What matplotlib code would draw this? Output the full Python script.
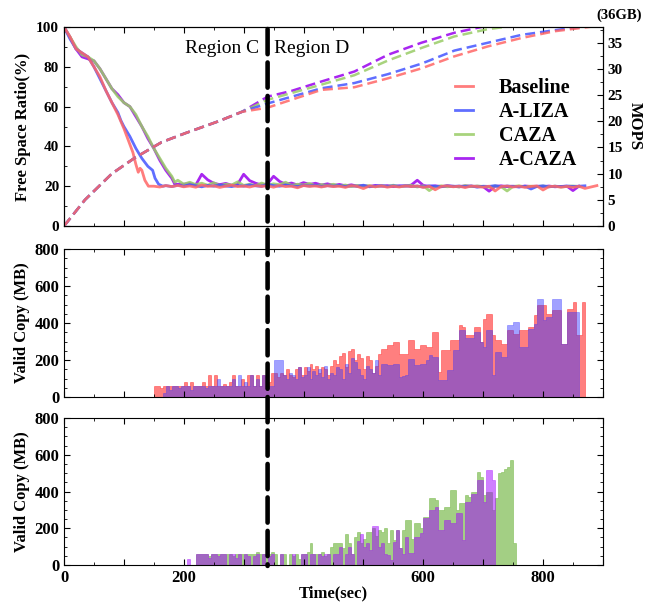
import numpy as np
import matplotlib
matplotlib.use('Agg')
import matplotlib.pyplot as plt
from matplotlib.patches import ConnectionPatch
from matplotlib.ticker import MultipleLocator

plt.rcParams['font.family'] = ['Liberation Serif', 'DejaVu Serif']
plt.rcParams['font.weight'] = 'bold'

# ---------------- data ----------------
names = ['Baseline', 'A-LIZA', 'CAZA', 'A-CAZA']
line_colors = ['#FF6666', '#4455FF', '#99CC66', '#9900EE']

# free space ratio (%): decline part (t, y) then flat part sampled every 10 s
base_fs_t = [0, 10, 20, 30, 40, 50, 60, 70, 80, 90, 100, 110, 115, 120, 124, 127, 130, 135, 141]
base_fs_y = [100, 95, 89, 87, 85, 80, 75, 68, 62, 56, 49, 41, 37, 31, 27, 29, 28, 23, 20]
base_flat_t0 = 150
base_flat = [20.0, 19.6, 20.3, 19.8, 20.4, 19.7, 20.1, 19.5, 20.6, 19.9,
             20.2, 19.4, 20.0, 20.5, 19.8, 20.1, 19.6, 20.3, 19.9, 20.2,
             19.5, 20.4, 19.8, 20.0, 19.2, 20.3, 19.9, 20.1, 19.6, 20.2,
             19.8, 20.0, 19.4, 20.3, 19.9, 18.8, 20.1, 19.7, 20.2, 19.5,
             20.0, 19.6, 20.2, 19.8, 20.1, 19.4, 20.0, 18.2, 19.9, 20.2,
             19.7, 20.0, 19.3, 20.1, 19.8, 19.5, 20.0, 17.6, 19.8, 20.1,
             19.6, 20.0, 19.4, 19.9, 20.1, 18.1, 19.8, 20.0, 19.5, 19.9,
             19.4, 20.0, 18.9, 19.6, 20.3]

aliza_fs_t = [0, 10, 20, 30, 40, 50, 60, 70, 80, 90, 95, 100, 110, 120, 130, 140, 148, 152, 158, 165]
aliza_fs_y = [100, 94, 89, 87, 85, 80, 74, 68, 62, 57, 53, 50, 45, 39, 34, 30, 28, 24, 21, 20]
aliza_flat_t0 = 170
aliza_flat = [20.3, 19.8, 20.5, 20.0, 20.8, 20.2, 19.7, 20.4, 20.0, 20.6,
              20.1, 19.8, 20.4, 20.0, 20.7, 20.2, 19.9, 21.0, 20.3, 20.0,
              20.6, 20.2, 19.8, 20.4, 20.1, 20.5, 19.9, 20.3, 20.0, 20.4,
              19.8, 20.2, 20.0, 20.5, 19.7, 20.1, 20.3, 19.9, 20.2, 20.0,
              20.3, 19.8, 20.1, 19.6, 20.2, 20.0, 19.7, 20.3, 19.9, 20.1,
              19.8, 20.2, 19.5, 20.0, 19.9, 20.3, 19.7, 20.1, 19.9, 19.6,
              20.0, 18.6, 19.9, 20.2, 19.7, 20.0, 19.8, 20.1, 19.9, 20.0,
              20.2]

caza_fs_t = [0, 10, 20, 30, 40, 50, 60, 70, 80, 90, 100, 110, 120, 130, 140, 150, 160, 170, 180, 185, 190, 200]
caza_fs_y = [100, 95, 90, 86, 85, 83, 79, 74, 69, 65, 62, 60, 56, 50, 45, 39, 34, 29, 25, 22, 23, 21]
caza_flat_t0 = 210
caza_flat = [22.0, 20.8, 21.5, 20.5, 21.8, 20.2, 21.0, 20.6, 22.2, 20.4,
             21.0, 20.3, 21.6, 20.5, 21.2, 20.8, 22.0, 20.4, 21.0, 20.6,
             21.4, 20.2, 20.8, 20.4, 21.0, 20.1, 20.6, 19.8, 20.4, 20.0,
             20.3, 19.7, 20.2, 19.9, 20.5, 19.8, 20.1, 20.4, 19.6, 20.2,
             17.8, 19.8, 20.2, 19.7, 20.0, 19.6, 20.3, 19.8, 20.1, 19.9,
             19.5, 20.1, 19.8, 17.6, 19.9, 20.2, 19.7, 20.0, 19.8, 20.1,
             19.7, 20.0, 19.6, 19.9, 20.1, 19.8]

acaza_fs_t = [0, 10, 20, 30, 40, 50, 60, 70, 80, 90, 100, 110, 120, 130, 140, 150, 160, 170, 180, 185]
acaza_fs_y = [100, 95, 89, 85, 84, 83, 79, 74, 69, 66, 62, 60, 55, 50, 44, 39, 33, 28, 24, 21]
acaza_flat_t0 = 200
acaza_flat = [21.0, 21.4, 20.6, 26.0, 23.2, 21.5, 20.8, 21.4, 20.5, 21.0,
              26.0, 22.8, 21.5, 20.6, 21.2, 25.0, 22.4, 21.0, 21.6, 20.6,
              21.8, 20.9, 21.5, 20.6, 21.2, 20.4, 20.9, 20.2, 20.7, 20.0,
              20.2, 19.9, 20.4, 20.0, 20.3, 19.8, 20.2, 20.0, 20.6, 23.0,
              20.4, 19.9, 20.2, 19.8, 20.1, 20.0, 19.7, 20.2, 19.9, 20.0,
              19.8, 17.5, 19.9, 20.2, 19.8, 20.0, 19.7, 20.1, 19.9, 20.0,
              19.8, 20.1, 19.7, 19.9, 20.0, 17.8, 20.0]

# MOPS (right axis)
mops_early_t = [0, 35, 80, 118, 163, 202, 258, 297]
mops_early_y = [0, 5, 10, 13, 16, 17.7, 20, 21.8]
base_mops_t = [340, 430, 485, 541, 597, 652, 708, 764, 820, 883, 900]
base_mops_y = [22.6, 26.0, 26.5, 28.2, 30.1, 32.4, 34.3, 35.9, 37.2, 38.1, 38.6]
aliza_mops_t = [340, 430, 485, 541, 597, 652, 708, 764, 820, 875, 890]
aliza_mops_y = [23.4, 26.3, 27.3, 29.0, 31.0, 33.5, 35.0, 36.5, 37.4, 38.2, 38.8]
caza_mops_t = [340, 430, 485, 541, 597, 652, 708, 750, 770]
caza_mops_y = [24.1, 27.0, 28.8, 31.6, 34.0, 36.2, 37.6, 38.2, 39.0]
acaza_mops_t = [340, 380, 430, 485, 541, 597, 652, 697, 720]
acaza_mops_y = [24.7, 25.8, 27.6, 29.5, 32.7, 35.0, 36.9, 38.0, 39.0]

# valid copy (MB), 5 s bins starting at t = 0
bin_w = 5
base_vc = [0] * 30 + [
    60, 60, 50, 60, 60, 60, 60, 60, 60, 60,
    80, 60, 80, 60, 60, 60, 80, 60, 120, 60,
    120, 60, 60, 70, 60, 80, 120, 60, 60, 100,
    60, 120, 120, 60, 120, 60, 120, 60, 80, 130,
    130, 110, 130, 120, 150, 120, 110, 150, 160, 120,
    160, 140, 180, 150, 170, 130, 160, 150, 120, 170,
    200, 180, 220, 240, 160, 250, 260, 200, 230, 210,
    150, 220, 200, 130, 170, 230, 261, 261, 279, 279,
    297, 297, 234, 234, 234, 306, 306, 261, 261, 279,
    279, 270, 270, 351, 351, 135, 252, 252, 252, 306,
    306, 306, 390, 380, 333, 333, 333, 378, 378, 300,
    423, 450, 450, 333, 306, 306, 288, 288, 360, 360,
    340, 340, 360, 360, 360, 378, 378, 441, 495, 495,
    495, 450, 450, 468, 468, 468, 288, 288, 477, 477,
    513, 333, 333, 513, 0, 0, 0]
aliza_vc = [0] * 30 + [
    0, 0, 0, 20, 60, 40, 60, 60, 50, 60,
    60, 60, 40, 60, 60, 60, 60, 50, 60, 60,
    60, 100, 60, 60, 60, 60, 100, 60, 120, 60,
    80, 60, 120, 60, 100, 60, 120, 110, 60, 60,
    200, 200, 200, 120, 100, 130, 120, 100, 160, 110,
    120, 160, 100, 140, 120, 150, 110, 170, 100, 130,
    120, 160, 150, 100, 180, 130, 210, 190, 150, 120,
    100, 170, 150, 130, 200, 120, 180, 180, 171, 171,
    180, 180, 108, 115, 120, 207, 207, 171, 171, 180,
    180, 200, 225, 216, 216, 90, 90, 90, 144, 144,
    252, 252, 360, 360, 320, 320, 320, 351, 351, 300,
    270, 360, 360, 117, 243, 243, 216, 216, 387, 387,
    405, 405, 270, 270, 270, 369, 369, 396, 531, 531,
    414, 432, 432, 531, 531, 531, 288, 288, 459, 459,
    459, 459]
caza_vc = [0] * 40 + [
    0, 0, 0, 0, 60, 60, 60, 60, 50, 60,
    60, 60, 60, 60, 60, 60, 50, 60, 60, 60,
    60, 60, 60, 60, 70, 60, 60, 50, 60, 70,
    60, 0, 60, 60, 0, 60, 50, 60, 30, 60,
    60, 70, 120, 60, 60, 60, 70, 50, 60, 100,
    120, 120, 120, 90, 170, 120, 60, 150, 180, 120,
    140, 180, 180, 200, 160, 190, 180, 200, 118, 190,
    136, 190, 90, 190, 245, 245, 140, 226, 226, 200,
    263, 263, 362, 362, 353, 300, 300, 317, 317, 408,
    408, 300, 340, 340, 380, 370, 398, 398, 507, 480,
    380, 400, 400, 300, 362, 500, 507, 520, 534, 570,
    120]
acaza_vc = [0] * 40 + [
    0, 30, 0, 0, 60, 60, 60, 60, 40, 60,
    60, 50, 60, 60, 0, 60, 60, 40, 60, 0,
    60, 50, 0, 50, 60, 0, 60, 0, 50, 60,
    0, 0, 60, 0, 0, 0, 60, 0, 0, 60,
    60, 0, 60, 60, 0, 60, 50, 60, 60, 0,
    60, 60, 100, 0, 60, 100, 60, 0, 130, 170,
    100, 120, 80, 215, 215, 100, 120, 60, 54, 27,
    127, 190, 90, 60, 150, 63, 63, 154, 154, 172,
    254, 254, 299, 299, 317, 190, 190, 245, 245, 226,
    226, 281, 281, 136, 344, 344, 389, 389, 462, 462,
    344, 516, 516, 462]

region_split = 340


def series(t0, ty, flat_t0, flat):
    t = list(t0) + [flat_t0 + 10 * i for i in range(len(flat))]
    return t, list(ty) + list(flat)


# ---------------- figure ----------------
fig = plt.figure(figsize=(6.5, 6.03), dpi=100)
L, W = 0.0985, 0.829
ax1 = fig.add_axes([L, 0.6252, W, 0.330])
ax2 = fig.add_axes([L, 0.3416, W, 0.2454])
ax3 = fig.add_axes([L, 0.0630, W, 0.2438])
ax1r = ax1.twinx()

fs = [series(base_fs_t, base_fs_y, base_flat_t0, base_flat),
      series(aliza_fs_t, aliza_fs_y, aliza_flat_t0, aliza_flat),
      series(caza_fs_t, caza_fs_y, caza_flat_t0, caza_flat),
      series(acaza_fs_t, acaza_fs_y, acaza_flat_t0, acaza_flat)]
mops = [(mops_early_t + base_mops_t, mops_early_y + base_mops_y),
        (mops_early_t + aliza_mops_t, mops_early_y + aliza_mops_y),
        (mops_early_t + caza_mops_t, mops_early_y + caza_mops_y),
        (mops_early_t + acaza_mops_t, mops_early_y + acaza_mops_y)]

handles = []
for i in [3, 2, 1, 0]:
    h, = ax1.plot(fs[i][0], fs[i][1], color=line_colors[i], lw=2, alpha=0.85, label=names[i])
    ax1r.plot(mops[i][0], mops[i][1], color=line_colors[i], lw=1.8, alpha=0.85,
              linestyle=(0, (4, 2)))
    handles.append(h)
handles = handles[::-1]

ax1.set_xlim(0, 900)
ax1.set_ylim(0, 100)
ax1r.set_ylim(0, 38)
ax1.yaxis.set_major_locator(MultipleLocator(20))
ax1.yaxis.set_minor_locator(MultipleLocator(10))
ax1r.yaxis.set_major_locator(MultipleLocator(5))
ax1r.yaxis.set_minor_locator(MultipleLocator(2.5))
ax1.set_ylabel('Free Space Ratio(%)', fontsize=12, fontweight='bold', labelpad=4)
ax1r.set_ylabel('MOPS', fontsize=12, fontweight='bold', rotation=270, labelpad=14)
ax1.text(1.03, 1.06, '(36GB)', transform=ax1.transAxes, fontsize=10.5,
         fontweight='bold', ha='center', va='center')
ax1.text(region_split - 14, 89, 'Region C', fontsize=14, fontweight='normal',
         ha='right', va='center')
ax1.text(region_split + 10, 89, 'Region D', fontsize=14, fontweight='normal',
         ha='left', va='center')
ax1.legend(handles, names, loc='upper left', bbox_to_anchor=(0.725, 0.745),
           frameon=False, handlelength=0.9, handletextpad=1.3,
           labelspacing=0.2, borderpad=0, borderaxespad=0,
           prop={'size': 14.5, 'weight': 'bold'})

# bars
bar_cfg = [(ax2, base_vc, '#FF0000', 0.5), (ax2, aliza_vc, '#3030FF', 0.45),
           (ax3, caza_vc, '#66B032', 0.6), (ax3, acaza_vc, '#A000FF', 0.5)]
for ax, vals, c, a in bar_cfg:
    edges = np.arange(len(vals) + 1) * bin_w
    ax.stairs(vals, edges, fill=True, facecolor=c, edgecolor=c, alpha=a, linewidth=0.5)

for ax in (ax2, ax3):
    ax.set_xlim(0, 900)
    ax.set_ylim(0, 800)
    ax.yaxis.set_major_locator(MultipleLocator(200))
    ax.yaxis.set_minor_locator(MultipleLocator(50))
    ax.set_ylabel('Valid Copy (MB)', fontsize=12, fontweight='bold', labelpad=3)

for ax in (ax1, ax2, ax3):
    ax.xaxis.set_major_locator(MultipleLocator(100))
    ax.xaxis.set_minor_locator(MultipleLocator(50))
    ax.tick_params(which='both', direction='in', top=True)
    ax.tick_params(which='major', length=4, labelsize=12)
    ax.tick_params(which='minor', length=2)
    for s in ax.spines.values():
        s.set_linewidth(0.8)
ax2.tick_params(right=True, which='both')
ax3.tick_params(right=True, which='both')
ax1.tick_params(labelbottom=False, labelsize=11)
ax1r.tick_params(which='both', direction='in', labelsize=11)
ax1r.tick_params(which='major', length=4)
ax1r.tick_params(which='minor', length=2)
ax2.tick_params(labelbottom=False)

x_labels = {0: '0', 200: '200', 600: '600', 800: '800'}
ax3.set_xticks(range(0, 901, 100))
ax3.set_xticklabels([x_labels.get(v, '') for v in range(0, 901, 100)])
ax3.set_xlabel('Time(sec)', fontsize=12, fontweight='bold', labelpad=0)

for ax in (ax1, ax1r, ax2, ax3):
    for lab in ax.get_xticklabels() + ax.get_yticklabels():
        lab.set_fontweight('bold')

# region split line across all panels
con = ConnectionPatch(xyA=(region_split, 99), coordsA=ax1.transData,
                      xyB=(region_split, -5), coordsB=ax3.transData,
                      color='black', lw=3.3, linestyle=(0, (5.5, 1.8)), zorder=10)
fig.add_artist(con)

fig.savefig('out.png', dpi=100)
